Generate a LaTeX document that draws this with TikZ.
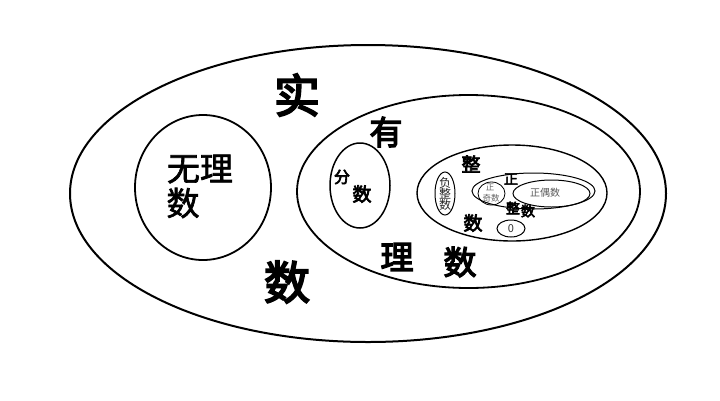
\documentclass[tikz,border=0pt]{standalone}
\usepackage{fontspec}
\setmainfont{Noto Sans CJK SC}
\newfontfamily\cjkmed[FakeBold=4]{Noto Sans CJK SC}
\newfontfamily\cjksemi[FakeBold=2]{Noto Sans CJK SC}
\usetikzlibrary{shapes.geometric}
\begin{document}
\begin{tikzpicture}[x=1pt,y=-1pt,
  setbox/.style={draw, ellipse, inner sep=0pt, line width=#1},
  setbox/.default=1.6pt,
  lbl/.style={inner sep=0pt, anchor=center, font=\fontsize{#1}{#1}\selectfont},
  mlbl/.style={inner sep=0pt, anchor=center, font=\fontsize{#1}{#1}\selectfont\cjksemi},
  blbl/.style={inner sep=0pt, anchor=center, font=\fontsize{#1}{#1}\selectfont\cjkmed}
]
\useasboundingbox (0,0) rectangle (720,400);
\fill[white] (0,0) rectangle (720,400);
% ellipses
\node[setbox=2pt, minimum width=596pt, minimum height=297pt] (real) at (368,193.5) {};
\node[setbox=1.8pt, minimum width=136pt, minimum height=145pt] (irr) at (203,187.5) {};
\node[setbox=1.8pt, minimum width=343pt, minimum height=193pt] (rat) at (468.5,191.5) {};
\node[setbox=1.5pt, minimum width=60pt, minimum height=85pt] (frac) at (360,185.5) {};
\node[setbox=1.4pt, minimum width=190pt, minimum height=96pt] (int) at (512,193) {};
\node[setbox=1pt, minimum width=20pt, minimum height=43pt] (neg) at (445,193.5) {};
\node[setbox=1pt, minimum width=123pt, minimum height=36pt] (pos) at (533.5,191) {};
\node[setbox=0.8pt, minimum width=27pt, minimum height=23pt] (odd) at (491.5,193.5) {};
\node[setbox=1pt, minimum width=77pt, minimum height=27pt] (even) at (551.5,193.5) {};
\node[setbox=1pt, minimum width=28pt, minimum height=17pt] (zero) at (511,228.5) {};
% labels
\node[blbl=46] (tshi) at (297,95) {实};
\node[blbl=46] (tshu) at (287,282) {数};
\node[blbl=33] (tyou) at (386,132) {有};
\node[blbl=33] (tli) at (397,257) {理};
\node[blbl=33] (tshu2) at (460,262) {数};
\node[mlbl=33] (twu) at (200,169) {无理};
\node[mlbl=33] (tshu3) at (183,203) {数};
\node[blbl=16] (tfen) at (342,177) {分};
\node[blbl=19] (tfs) at (362,194) {数};
\node[blbl=19] (tzheng) at (471,164) {整};
\node[blbl=19] (tzs) at (473,223) {数};
\node[blbl=14] (tpz) at (511,179) {正};
\node[blbl=14] (tpz2) at (513,208) {整};
\node[blbl=14] (tpz3) at (528,211) {数};
\node[lbl=12, align=center, text=black!85] (tneg) at (445,193.5) {负\\[-1pt]整\\[-1pt]数};
\node[lbl=8.5, text=black!60] (todd1) at (490,187) {正};
\node[lbl=8.5, text=black!60] (todd2) at (491,198) {奇数};
\node[lbl=10, text=black!65] (teven) at (545,193) {正偶数};
\node[lbl=11, text=black!80] (tzero) at (511,228.5) {0};
\end{tikzpicture}
\end{document}
